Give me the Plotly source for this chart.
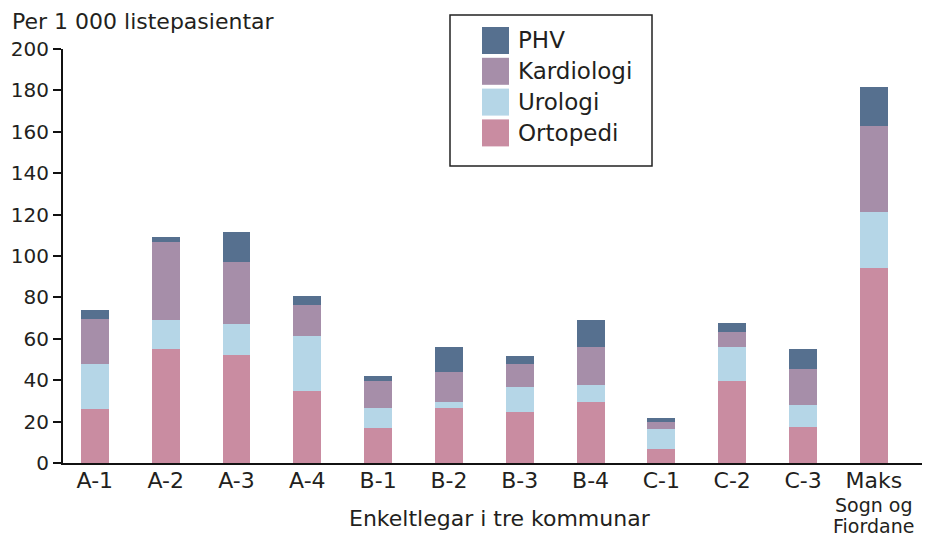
import plotly.graph_objects as go

categories = ["A-1", "A-2", "A-3", "A-4", "B-1", "B-2", "B-3", "B-4", "C-1", "C-2", "C-3", "Maks"]
tick_labels = ["A-1", "A-2", "A-3", "A-4", "B-1", "B-2", "B-3", "B-4", "C-1", "C-2", "C-3", "Maks"]
extra_label_lines = ["Sogn og", "Fiordane"]

# cumulative tops
ortopedi_top = [25.9, 55.3, 52.4, 35.0, 16.7, 26.4, 24.4, 29.7, 6.6, 39.4, 17.2, 94.3]
urologi_top = [47.6, 69.1, 67.3, 61.5, 26.4, 29.7, 36.9, 37.9, 16.2, 56.2, 27.8, 121.2]
kardiologi_top = [69.7, 106.8, 97.2, 76.5, 39.4, 44.2, 47.6, 55.8, 19.6, 63.5, 45.6, 162.7]
phv_top = [74.1, 109.2, 111.7, 80.8, 41.8, 56.2, 51.9, 69.3, 21.5, 67.7, 55.3, 181.5]

ortopedi = ortopedi_top
urologi = [round(u - o, 1) for u, o in zip(urologi_top, ortopedi_top)]
kardiologi = [round(k - u, 1) for k, u in zip(kardiologi_top, urologi_top)]
phv = [round(p - k, 1) for p, k in zip(phv_top, kardiologi_top)]

series_names = ["Ortopedi", "Urologi", "Kardiologi", "PHV"]
series_values = [ortopedi, urologi, kardiologi, phv]
colors = ["#c98ca1", "#b5d6e7", "#a68ea9", "#56708f"]

y_ticks = [0, 20, 40, 60, 80, 100, 120, 140, 160, 180, 200]

FONT = "DejaVu Sans"
TXT = "#231f20"

# layout geometry (pixels)
W, H = 928, 537
L, R, T, B = 63, 6, 49, 74
PW, PH = W - L - R, H - T - B


def px(x):
    return (x - L) / PW


def py(y):
    return (H - B - y) / PH


fig = go.Figure()
for name, vals, col in zip(series_names, series_values, colors):
    fig.add_trace(go.Bar(x=categories, y=vals, name=name, marker=dict(color=col, line=dict(width=0)),
                         showlegend=False))

fig.update_layout(
    barmode="stack",
    bargap=0.605,
    width=W, height=H,
    margin=dict(l=L, r=R, t=T, b=B, autoexpand=False),
    paper_bgcolor="white", plot_bgcolor="white",
    font=dict(family=FONT, color=TXT, size=22),
)
fig.update_xaxes(
    type="category", range=[-0.45, 11.68],
    tickvals=categories, ticktext=tick_labels,
    showline=True, linecolor="#111111", linewidth=2,
    ticks="", showgrid=False, zeroline=False,
    ticklabelstandoff=-3,
    tickfont=dict(size=22, family=FONT, color=TXT),
)
fig.update_yaxes(
    range=[0, 200], tickvals=y_ticks,
    showline=True, linecolor="#111111", linewidth=2,
    ticks="outside", ticklen=8, tickwidth=2, tickcolor="#111111",
    showgrid=False, zeroline=False,
    tickfont=dict(size=20, family=FONT, color=TXT),
)

ann = []
ann.append(dict(text="Per 1 000 listepasientar", xref="paper", yref="paper", x=px(10), y=py(22),
                xanchor="left", yanchor="middle", showarrow=False, font=dict(size=22, family=FONT, color=TXT)))
ann.append(dict(text="Enkeltlegar i tre kommunar", xref="paper", yref="paper", x=px(500), y=py(518),
                xanchor="center", yanchor="middle", showarrow=False, font=dict(size=22, family=FONT, color=TXT)))
for line, yy in zip(extra_label_lines, [504.5, 525.5]):
    ann.append(dict(text=line, xref="x", yref="paper", x=categories[-1], y=py(yy),
                    xanchor="center", yanchor="middle", showarrow=False, font=dict(size=19, family=FONT, color=TXT)))

shapes = [dict(type="rect", xref="paper", yref="paper", x0=px(450), x1=px(652), y0=py(166), y1=py(15),
               line=dict(color="#222222", width=1.5), fillcolor="rgba(0,0,0,0)")]
legend_order = list(reversed(list(zip(series_names, colors))))
for i, (name, col) in enumerate(legend_order):
    top = 27 + i * 30.8
    shapes.append(dict(type="rect", xref="paper", yref="paper", x0=px(482), x1=px(509), y0=py(top + 27), y1=py(top),
                       line=dict(width=0), fillcolor=col))
    ann.append(dict(text=name, xref="paper", yref="paper", x=px(516), y=py(top + 13.5),
                    xanchor="left", yanchor="middle", showarrow=False, font=dict(size=23, family=FONT, color=TXT)))

fig.update_layout(annotations=ann, shapes=shapes)
fig.write_html("out.html", config={"displayModeBar": False},
               post_script="document.body.style.margin='0';document.body.style.overflow='hidden';")
